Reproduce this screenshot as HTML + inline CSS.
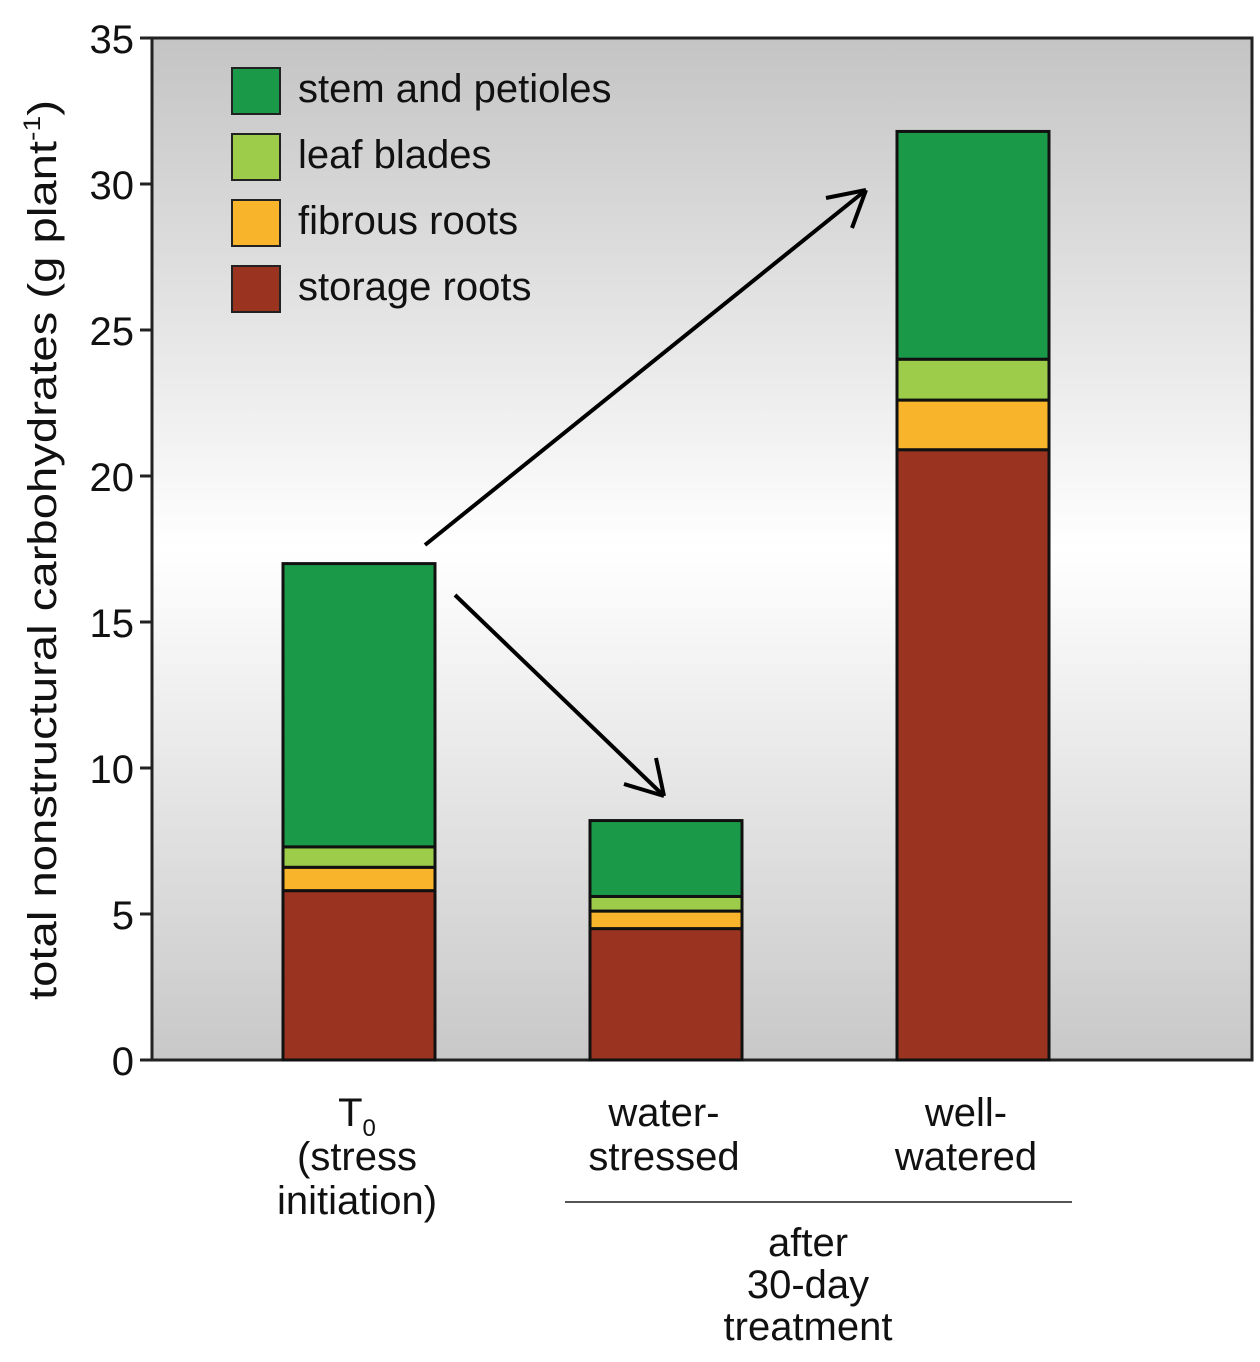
<!DOCTYPE html>
<html><head><meta charset="utf-8">
<style>
html,body{margin:0;padding:0;background:#fff;}
svg text{font-family:"Liberation Sans",sans-serif;fill:#111;}
</style></head>
<body>
<svg id="chart" width="1260" height="1357" viewBox="0 0 1260 1357" xmlns="http://www.w3.org/2000/svg">
<defs>
<linearGradient id="bg" x1="0" y1="0" x2="0" y2="1">
<stop offset="0" stop-color="#c4c4c4"/>
<stop offset="0.5" stop-color="#ffffff"/>
<stop offset="1" stop-color="#c8c8c8"/>
</linearGradient>
</defs>
<rect x="152" y="38" width="1100" height="1022" fill="url(#bg)" stroke="#222" stroke-width="3"/>
<g id="ticks"></g>
<g id="bars"></g>
<text transform="translate(56,550) rotate(-90)" text-anchor="middle" font-size="40" textLength="900" lengthAdjust="spacingAndGlyphs">total nonstructural carbohydrates (g plant<tspan font-size="24" dy="-16">-1</tspan><tspan dy="16">)</tspan></text>
<g id="legend"></g>
<line x1="425" y1="545" x2="866" y2="190" stroke="#000" stroke-width="4"/>
<path d="M866,190 l-40,8 M866,190 l-14,38" stroke="#000" stroke-width="4" fill="none"/>
<line x1="455" y1="595" x2="664" y2="796" stroke="#000" stroke-width="4"/>
<path d="M664,796 l-40,-12 M664,796 l-8,-38" stroke="#000" stroke-width="4" fill="none"/>
<g font-size="40" text-anchor="middle">
<text x="357" y="1126">T<tspan font-size="24" dy="10">0</tspan><tspan x="357" dy="34">(stress</tspan><tspan x="357" dy="44">initiation)</tspan></text>
<text x="664" y="1126">water-<tspan x="664" dy="44">stressed</tspan></text>
<text x="966" y="1126">well-<tspan x="966" dy="44">watered</tspan></text>
<line x1="565" y1="1202" x2="1072" y2="1202" stroke="#555" stroke-width="2"/>
<text x="808" y="1256">after<tspan x="808" dy="42">30-day</tspan><tspan x="808" dy="42">treatment</tspan></text>
</g>
</svg>
<script>
const categories=["T0","water-stressed","well-watered"];
const seriesNames=["storage roots","fibrous roots","leaf blades","stem and petioles"];
const storageRoots=[5.8,4.5,20.9];
const fibrousRoots=[0.8,0.6,1.7];
const leafBlades=[0.7,0.5,1.4];
const stemPetioles=[9.7,2.6,7.8];
const yTicks=[0,5,10,15,20,25,30,35];
const colors=["#9a3420","#f8b42a","#9ccc4a","#1a9a48"];
const NS="http://www.w3.org/2000/svg";
const y0=1060,yTop=38,yMax=35;
function yScale(v){return y0-(v/yMax)*(y0-yTop);}
const barX=[283,590,897],barW=152;
function xScale(i){return barX[i];}
const ticksG=document.getElementById('ticks');
yTicks.forEach(t=>{
 const ln=document.createElementNS(NS,'line');
 
 
 ln.setAttribute('x1',140);ln.setAttribute('x2',152);
 ln.setAttribute('y1',yScale(t));ln.setAttribute('y2',yScale(t));
 ln.setAttribute('stroke','#222');ln.setAttribute('stroke-width','3');
 ticksG.appendChild(ln);
 const tx=document.createElementNS(NS,'text');
 
 
 tx.setAttribute('x',134);tx.setAttribute('y',yScale(t)+15);
 tx.setAttribute('text-anchor','end');tx.setAttribute('font-size','40');
 tx.textContent=t;ticksG.appendChild(tx);
});
const series=[storageRoots,fibrousRoots,leafBlades,stemPetioles];
const barsG=document.getElementById('bars');
categories.forEach((c,i)=>{
 let base=0;
 series.forEach((s,k)=>{
  const r=document.createElementNS(NS,'rect');
  
  
  r.setAttribute('x',xScale(i));r.setAttribute('width',barW);
  r.setAttribute('y',yScale(base+s[i]));r.setAttribute('height',yScale(base)-yScale(base+s[i]));
  r.setAttribute('fill',colors[k]);r.setAttribute('stroke','#111');r.setAttribute('stroke-width','3');
  barsG.appendChild(r);
  base+=s[i];
 });
});
const legendG=document.getElementById('legend');
[3,2,1,0].forEach((k,j)=>{
 const y=68+j*66;
 const r=document.createElementNS(NS,'rect');
 
 
 r.setAttribute('x',232);r.setAttribute('y',y);r.setAttribute('width',48);r.setAttribute('height',46);
 r.setAttribute('fill',colors[k]);r.setAttribute('stroke','#222');r.setAttribute('stroke-width','2');
 legendG.appendChild(r);
 const t=document.createElementNS(NS,'text');
 
 
 t.setAttribute('x',298);t.setAttribute('y',y+34);t.setAttribute('font-size','40');
 t.textContent=seriesNames[k];legendG.appendChild(t);
});
</script>
</body></html>
